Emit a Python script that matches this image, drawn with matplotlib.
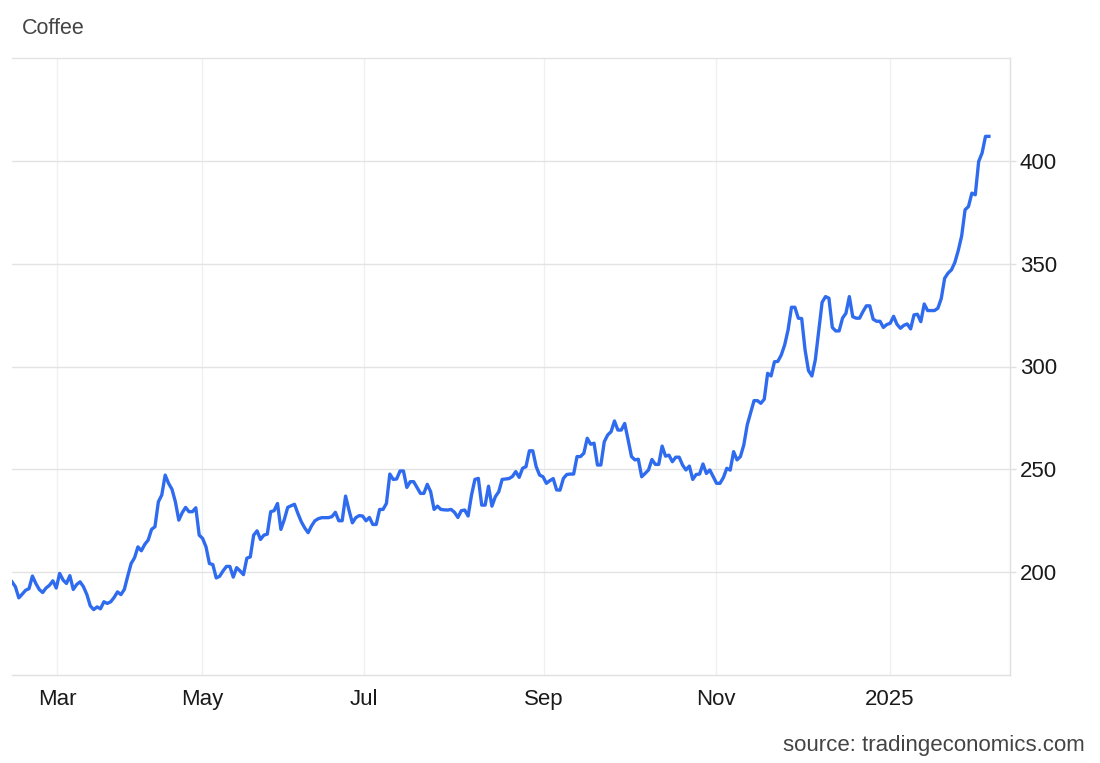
import matplotlib
matplotlib.use("Agg")
import matplotlib.pyplot as plt

# Coffee price (US cents/lb), successive observations Feb 2024 - Feb 2025
prices = [
    195.3, 192.9, 187.5, 189.3, 191.2, 192.0, 198.1, 194.5, 191.6, 190.1,
    192.3, 193.6, 195.8, 192.3, 199.4, 196.2, 194.5, 198.3, 191.6, 194.0,
    195.3, 192.9, 189.1, 183.6, 181.8, 183.1, 182.2, 185.6, 184.8, 185.6,
    187.7, 190.4, 189.1, 191.6, 198.1, 204.2, 207.0, 212.3, 210.4, 213.5,
    215.6, 220.8, 222.1, 234.2, 237.5, 247.2, 243.2, 240.3, 234.2, 225.3,
    228.9, 231.5, 229.4, 229.4, 231.3, 218.0, 216.4, 212.3, 204.2, 203.7,
    197.2, 198.0, 200.6, 202.8, 202.8, 197.6, 202.2, 200.6, 198.8, 206.8,
    207.4, 218.0, 220.1, 215.9, 218.0, 218.5, 229.4, 229.9, 233.4, 220.8,
    225.6, 231.5, 232.3, 233.0, 228.5, 224.5, 221.5, 219.2, 222.5, 225.0,
    226.0, 226.5, 226.5, 226.5, 227.0, 229.1, 225.0, 225.0, 237.0, 230.2,
    224.0, 226.5, 227.5, 227.3, 225.0, 226.6, 223.2, 223.2, 230.5, 230.5,
    233.4, 247.7, 245.1, 245.3, 249.2, 249.2, 241.2, 244.0, 244.0, 241.2,
    238.3, 238.3, 242.7, 239.1, 230.5, 232.1, 230.5, 230.3, 230.2, 230.5,
    229.1, 226.6, 229.9, 230.2, 227.3, 237.5, 245.1, 245.6, 232.6, 232.6,
    241.8, 232.1, 236.7, 239.1, 245.1, 245.3, 245.5, 246.5, 248.9, 246.1,
    250.5, 251.3, 259.0, 259.0, 251.3, 247.2, 246.4, 243.2, 244.5, 245.5,
    240.0, 239.9, 245.6, 247.5, 247.7, 247.7, 256.2, 256.2, 257.8, 265.1,
    262.2, 262.7, 252.1, 252.1, 263.4, 266.7, 268.3, 273.5, 269.1, 269.1,
    272.3, 264.4, 256.2, 254.6, 254.9, 246.4, 248.0, 249.7, 254.8, 252.4,
    252.4, 261.3, 256.4, 256.9, 253.7, 255.9, 255.9, 252.1, 249.7, 251.6,
    245.1, 247.5, 247.7, 252.6, 248.0, 249.7, 246.4, 243.2, 243.2, 246.0,
    250.5, 249.6, 258.6, 254.6, 256.2, 261.9, 271.6, 277.5, 283.4, 283.4,
    282.1, 284.1, 296.7, 295.4, 302.3, 302.5, 305.6, 310.5, 317.8, 328.8,
    328.8, 323.5, 323.3, 308.0, 298.0, 295.4, 303.2, 317.0, 331.2, 334.0,
    333.2, 319.0, 317.3, 317.3, 323.5, 325.9, 334.0, 324.2, 323.5, 323.5,
    326.7, 329.5, 329.5, 323.0, 322.0, 322.0, 319.0, 320.4, 321.0, 324.4,
    320.5, 318.6, 320.0, 320.7, 318.3, 325.1, 325.4, 321.8, 330.4, 327.2,
    327.2, 327.2, 328.3, 333.0, 342.9, 345.4, 347.0, 350.6, 356.4, 363.5,
    376.2, 377.8, 384.3, 383.5, 399.7, 403.8, 411.9, 411.9,
]

# index of the first observation of each labelled month
month_start_index = [13.2, 55.8, 103.3, 156.3, 206.9, 257.8]
month_labels = ["Mar", "May", "Jul", "Sep", "Nov", "2025"]

y_ticks = [200, 250, 300, 350, 400]

plt.rcParams["font.family"] = ["Liberation Sans", "DejaVu Sans"]

fig = plt.figure(figsize=(11, 7.63), dpi=100)
ax = fig.add_axes([12 / 1100, 1 - 675 / 763, (1010 - 12) / 1100, (675 - 58) / 763])

x = list(range(len(prices)))
ax.plot(x, prices, color="#2f6bef", linewidth=2.4, solid_joinstyle="round", zorder=3)

ax.set_xlim(0, 293.2)
ax.set_ylim(150, 450)

ax.set_xticks(month_start_index)
ax.set_xticklabels(month_labels)
ax.set_yticks(y_ticks)
ax.set_yticklabels([str(v) for v in y_ticks])

ax.yaxis.tick_right()
ax.tick_params(axis="y", which="both", length=4, width=1, color="#e0e0e0",
               labelsize=16, labelcolor="#1a1a1a", pad=3)
ax.tick_params(axis="x", which="both", length=0, labelsize=16,
               labelcolor="#1a1a1a", pad=10)

ax.grid(axis="y", color="#e3e3e3", linewidth=1)
ax.grid(axis="x", color="#eef0f4", linewidth=1)

ax.spines["left"].set_visible(False)
ax.spines["top"].set_color("#e3e3e3")
ax.spines["right"].set_color("#e0e0e0")
ax.spines["bottom"].set_color("#e0e0e0")
for side in ["top", "right", "bottom"]:
    ax.spines[side].set_linewidth(1)

fig.text(22 / 1100, 1 - 29 / 763, "Coffee", fontsize=15.5, color="#444444",
         ha="left", va="center")
fig.text(1085 / 1100, 1 - 745 / 763, "source: tradingeconomics.com", fontsize=16,
         color="#444444", ha="right", va="center")

fig.savefig("out.png", dpi=100, facecolor="white")
